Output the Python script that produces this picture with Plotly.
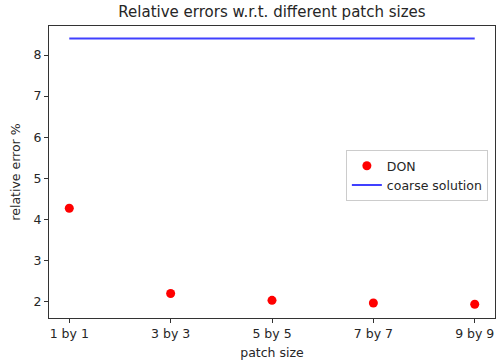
import plotly.graph_objects as go

categories = ["1 by 1", "3 by 3", "5 by 5", "7 by 7", "9 by 9"]
don_values = [4.27, 2.195, 2.03, 1.966, 1.934]
coarse_values = [8.40, 8.40, 8.40, 8.40, 8.40]
x_idx = list(range(len(categories)))

font_fam = "DejaVu Sans"
fig = go.Figure()
fig.add_trace(go.Scatter(
    x=x_idx, y=don_values, mode="markers", name="DON",
    marker=dict(color="#ff0000", size=9, line=dict(width=0)),
))
fig.add_trace(go.Scatter(
    x=x_idx, y=coarse_values, mode="lines", name="coarse solution",
    line=dict(color="rgba(0,0,255,0.75)", width=2),
))

axis_common = dict(
    showline=True, linecolor="#333333", linewidth=1, mirror=True,
    ticks="outside", ticklen=4, tickcolor="#333333", tickwidth=1,
    showgrid=False, zeroline=False,
    tickfont=dict(family=font_fam, size=12.5, color="#262626"),
)

fig.update_layout(
    width=496, height=364,
    margin=dict(l=49, r=1, t=26, b=46),
    paper_bgcolor="white", plot_bgcolor="white",
    title=dict(text="Relative errors w.r.t. different patch sizes",
               x=(49 + 495) / 2 / 496, xanchor="center", y=1 - 12 / 364, yanchor="middle",
               font=dict(family=font_fam, size=15, color="#262626")),
    xaxis=dict(range=[-0.2, 4.2], tickmode="array", tickvals=x_idx, ticktext=categories,
               title=dict(text="patch size", standoff=8,
                          font=dict(family=font_fam, size=12.5, color="#262626")),
               **axis_common),
    yaxis=dict(range=[1.60, 8.706], tickmode="array", tickvals=[2, 3, 4, 5, 6, 7, 8],
               title=dict(text="relative error %", standoff=10,
                          font=dict(family=font_fam, size=12.5, color="#262626")),
               **axis_common),
    legend=dict(x=0.984, xanchor="right", y=0.575, yanchor="top",
                bgcolor="rgba(255,255,255,0.8)", bordercolor="#cccccc", borderwidth=1,
                font=dict(family=font_fam, size=12.5, color="#262626"),
                itemwidth=30, tracegroupgap=0),
    showlegend=True,
)

fig.write_html("out.html")
